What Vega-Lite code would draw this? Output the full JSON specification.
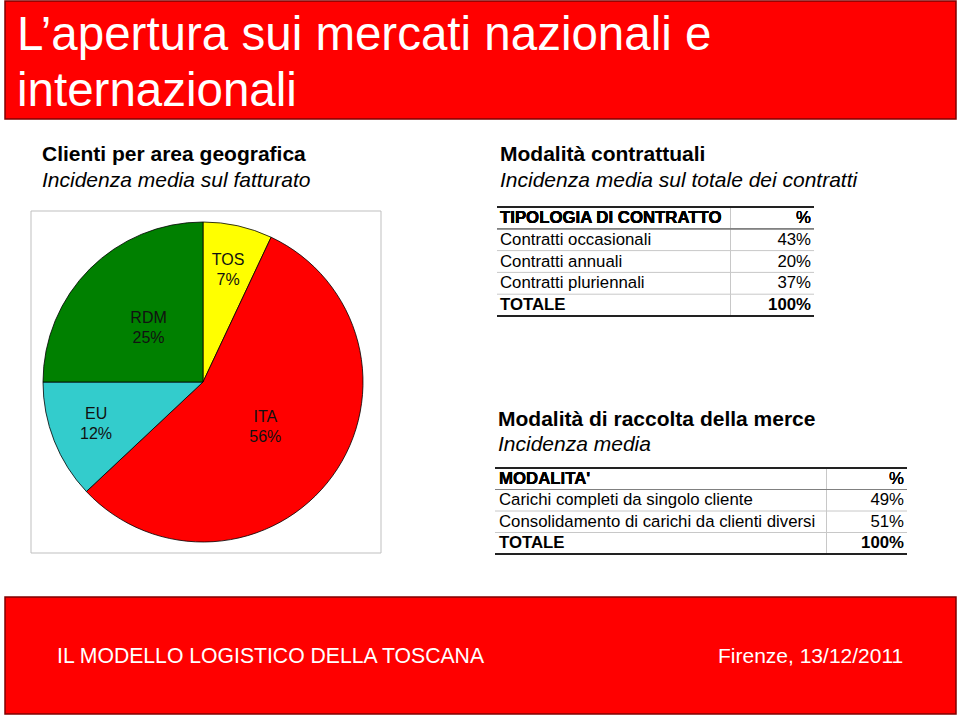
{
  "$schema": "https://vega.github.io/schema/vega-lite/v6.json",
  "width": 960,
  "height": 716,
  "padding": 0,
  "autosize": {"type": "none"},
  "background": "white",
  "config": {
    "view": {"stroke": null},
    "axis": {"disable": true},
    "legend": {"disable": true},
    "font": "Liberation Sans",
    "text": {"font": "Liberation Sans"}
  },
  "resolve": {"scale": {"y": "independent"}},
  "layer": [
    {
      "layer": [
        {
          "data": {"values": [{"fascia": "intestazione"}]},
          "mark": {"type": "rect", "fill": "#ff0000", "stroke": "#800000", "strokeWidth": 1.5},
          "encoding": {
            "x": {"datum": 5, "type": "quantitative", "scale": {"domain": [0, 960], "nice": false, "zero": false}},
            "x2": {"datum": 956},
            "y": {"datum": 1, "type": "quantitative", "scale": {"domain": [0, 716], "reverse": true, "nice": false, "zero": false}},
            "y2": {"datum": 119}
          }
        },
        {
          "data": {"values": [{"fascia": "piede"}]},
          "mark": {"type": "rect", "fill": "#ff0000", "stroke": "#800000", "strokeWidth": 1.5},
          "encoding": {"x": {"datum": 5}, "x2": {"datum": 956}, "y": {"datum": 597}, "y2": {"datum": 714}}
        },
        {
          "data": {"values": [{"fascia": "riquadro"}]},
          "mark": {"type": "rect", "fill": "#ffffff", "stroke": "#bfbfbf", "strokeWidth": 1},
          "encoding": {"x": {"datum": 31}, "x2": {"datum": 381}, "y": {"datum": 211}, "y2": {"datum": 553}}
        },
        {
          "data": {"values": [{"testo": "L’apertura sui mercati nazionali e\ninternazionali"}]},
          "mark": {"type": "text", "fontSize": 47.5, "fill": "#ffffff", "align": "left", "baseline": "alphabetic", "lineBreak": "\n", "lineHeight": 56},
          "encoding": {"x": {"datum": 17}, "y": {"datum": 50}, "text": {"field": "testo"}}
        },
        {
          "data": {"values": [{"testo": "IL MODELLO LOGISTICO DELLA TOSCANA"}]},
          "mark": {"type": "text", "fontSize": 21.2, "fill": "#ffffff", "align": "left", "baseline": "alphabetic"},
          "encoding": {"x": {"datum": 57}, "y": {"datum": 663}, "text": {"field": "testo"}}
        },
        {
          "data": {"values": [{"testo": "Firenze, 13/12/2011"}]},
          "mark": {"type": "text", "fontSize": 21, "fill": "#ffffff", "align": "left", "baseline": "alphabetic"},
          "encoding": {"x": {"datum": 718}, "y": {"datum": 663}, "text": {"field": "testo"}}
        },
        {
          "data": {"values": [{"testo": "Clienti per area geografica"}]},
          "mark": {"type": "text", "fontSize": 21, "fontWeight": "bold", "fill": "#000000", "align": "left", "baseline": "alphabetic"},
          "encoding": {"x": {"datum": 42}, "y": {"datum": 161}, "text": {"field": "testo"}}
        },
        {
          "data": {"values": [{"testo": "Incidenza media sul fatturato"}]},
          "mark": {"type": "text", "fontSize": 21, "fontStyle": "italic", "fill": "#000000", "align": "left", "baseline": "alphabetic"},
          "encoding": {"x": {"datum": 42}, "y": {"datum": 187}, "text": {"field": "testo"}}
        },
        {
          "data": {"values": [{"testo": "Modalità contrattuali"}]},
          "mark": {"type": "text", "fontSize": 21, "fontWeight": "bold", "fill": "#000000", "align": "left", "baseline": "alphabetic"},
          "encoding": {"x": {"datum": 500}, "y": {"datum": 161}, "text": {"field": "testo"}}
        },
        {
          "data": {"values": [{"testo": "Incidenza media sul totale dei contratti"}]},
          "mark": {"type": "text", "fontSize": 21, "fontStyle": "italic", "fill": "#000000", "align": "left", "baseline": "alphabetic"},
          "encoding": {"x": {"datum": 500}, "y": {"datum": 187}, "text": {"field": "testo"}}
        },
        {
          "data": {"values": [{"testo": "Modalità di raccolta della merce"}]},
          "mark": {"type": "text", "fontSize": 21, "fontWeight": "bold", "fill": "#000000", "align": "left", "baseline": "alphabetic"},
          "encoding": {"x": {"datum": 498}, "y": {"datum": 426}, "text": {"field": "testo"}}
        },
        {
          "data": {"values": [{"testo": "Incidenza media"}]},
          "mark": {"type": "text", "fontSize": 21, "fontStyle": "italic", "fill": "#000000", "align": "left", "baseline": "alphabetic"},
          "encoding": {"x": {"datum": 498}, "y": {"datum": 451}, "text": {"field": "testo"}}
        },
        {
          "data": {"values": [
            {"area": "TOS", "quota": 0.07, "ordine": 1},
            {"area": "ITA", "quota": 0.56, "ordine": 2},
            {"area": "EU", "quota": 0.12, "ordine": 3},
            {"area": "RDM", "quota": 0.25, "ordine": 4}
          ]},
          "encoding": {
            "theta": {"field": "quota", "type": "quantitative", "stack": true},
            "order": {"field": "ordine", "type": "quantitative"},
            "detail": {"field": "area", "type": "nominal"},
            "x": {"datum": 203},
            "y": {"datum": 382}
          },
          "layer": [
            {
              "mark": {"type": "arc", "outerRadius": 160, "stroke": "#000000", "strokeWidth": 0.8},
              "encoding": {"color": {"field": "area", "type": "nominal", "scale": {"domain": ["TOS", "ITA", "EU", "RDM"], "range": ["#ffff00", "#ff0000", "#33cccc", "#008000"]}}}
            },
            {
              "mark": {"type": "text", "radius": 77, "dy": -10, "fontSize": 16, "fill": "#111111"},
              "encoding": {
                "text": {"field": "area", "type": "nominal"},
                "opacity": {"condition": {"test": "datum.area === 'RDM' || datum.area === 'ITA'", "value": 1}, "value": 0}
              }
            },
            {
              "mark": {"type": "text", "radius": 77, "dy": 10, "fontSize": 16, "fill": "#111111"},
              "encoding": {
                "text": {"field": "quota", "type": "quantitative", "format": ".0%"},
                "opacity": {"condition": {"test": "datum.area === 'RDM' || datum.area === 'ITA'", "value": 1}, "value": 0}
              }
            },
            {
              "mark": {"type": "text", "radius": 115, "dy": -10, "fontSize": 16, "fill": "#111111"},
              "encoding": {
                "text": {"field": "area", "type": "nominal"},
                "opacity": {"condition": {"test": "datum.area === 'TOS' || datum.area === 'EU'", "value": 1}, "value": 0}
              }
            },
            {
              "mark": {"type": "text", "radius": 115, "dy": 10, "fontSize": 16, "fill": "#111111"},
              "encoding": {
                "text": {"field": "quota", "type": "quantitative", "format": ".0%"},
                "opacity": {"condition": {"test": "datum.area === 'TOS' || datum.area === 'EU'", "value": 1}, "value": 0}
              }
            }
          ]
        }
      ]
    },
    {
      "data": {"values": [
        {"tipologia": "Contratti occasionali", "quota": 0.43},
        {"tipologia": "Contratti annuali", "quota": 0.20},
        {"tipologia": "Contratti pluriennali", "quota": 0.37},
        {"tipologia": "TOTALE", "quota": 1.00}
      ]},
      "layer": [
        {
          "mark": {"type": "rect", "fill": "#c8c8c8"},
          "encoding": {
            "x": {"datum": 730},
            "x2": {"datum": 731},
            "y": {"field": "tipologia", "type": "nominal", "scale": {"type": "band", "domain": ["TIPOLOGIA DI CONTRATTO", "Contratti occasionali", "Contratti annuali", "Contratti pluriennali", "TOTALE"], "range": [207, 316], "paddingInner": 0, "paddingOuter": 0}}
          }
        },
        {
          "mark": {"type": "rect", "fill": "#c8c8c8"},
          "encoding": {"x": {"datum": 730}, "x2": {"datum": 731}, "y": {"datum": "TIPOLOGIA DI CONTRATTO"}}
        },
        {
          "mark": {"type": "rule", "stroke": "#c8c8c8", "strokeWidth": 1},
          "encoding": {"x": {"datum": 497}, "x2": {"datum": 814}, "y": {"field": "tipologia", "type": "nominal", "bandPosition": 0}}
        },
        {
          "mark": {"type": "rule", "stroke": "#808080", "strokeWidth": 1},
          "encoding": {"x": {"datum": 497}, "x2": {"datum": 814}, "y": {"datum": "Contratti occasionali", "bandPosition": 0}}
        },
        {
          "mark": {"type": "rule", "stroke": "#222222", "strokeWidth": 2},
          "encoding": {"x": {"datum": 497}, "x2": {"datum": 814}, "y": {"datum": "TIPOLOGIA DI CONTRATTO", "bandPosition": 0}}
        },
        {
          "mark": {"type": "rule", "stroke": "#222222", "strokeWidth": 2},
          "encoding": {"x": {"datum": 497}, "x2": {"datum": 814}, "y": {"datum": "TOTALE", "bandPosition": 1}}
        },
        {
          "mark": {"type": "text", "fontSize": 16.8, "fontWeight": "bold", "align": "left", "baseline": "middle", "fill": "#000000"},
          "encoding": {"x": {"datum": 500}, "y": {"datum": "TIPOLOGIA DI CONTRATTO"}, "text": {"datum": "TIPOLOGIA DI CONTRATTO"}}
        },
        {
          "mark": {"type": "text", "fontSize": 16.8, "align": "right", "baseline": "middle", "fill": "#000000"},
          "encoding": {"x": {"datum": 811}, "y": {"datum": "TIPOLOGIA DI CONTRATTO"}, "text": {"datum": "%"}}
        },
        {
          "transform": [{"filter": "datum.tipologia !== 'TOTALE'"}],
          "mark": {"type": "text", "fontSize": 16.8, "align": "left", "baseline": "middle", "fill": "#000000"},
          "encoding": {"x": {"datum": 500}, "y": {"field": "tipologia", "type": "nominal"}, "text": {"field": "tipologia"}}
        },
        {
          "transform": [{"filter": "datum.tipologia !== 'TOTALE'"}],
          "mark": {"type": "text", "fontSize": 16.8, "align": "right", "baseline": "middle", "fill": "#000000"},
          "encoding": {"x": {"datum": 811}, "y": {"field": "tipologia", "type": "nominal"}, "text": {"field": "quota", "type": "quantitative", "format": ".0%"}}
        },
        {
          "transform": [{"filter": "datum.tipologia === 'TOTALE'"}],
          "mark": {"type": "text", "fontSize": 16.8, "fontWeight": "bold", "align": "left", "baseline": "middle", "fill": "#000000"},
          "encoding": {"x": {"datum": 500}, "y": {"field": "tipologia", "type": "nominal"}, "text": {"field": "tipologia"}}
        },
        {
          "transform": [{"filter": "datum.tipologia === 'TOTALE'"}],
          "mark": {"type": "text", "fontSize": 16.8, "fontWeight": "bold", "align": "right", "baseline": "middle", "fill": "#000000"},
          "encoding": {"x": {"datum": 811}, "y": {"field": "tipologia", "type": "nominal"}, "text": {"field": "quota", "type": "quantitative", "format": ".0%"}}
        }
      ]
    },
    {
      "data": {"values": [
        {"modalita": "Carichi completi da singolo cliente", "quota": 0.49},
        {"modalita": "Consolidamento di carichi da clienti diversi", "quota": 0.51},
        {"modalita": "TOTALE", "quota": 1.00}
      ]},
      "layer": [
        {
          "mark": {"type": "rect", "fill": "#c8c8c8"},
          "encoding": {
            "x": {"datum": 826},
            "x2": {"datum": 827},
            "y": {"field": "modalita", "type": "nominal", "scale": {"type": "band", "domain": ["MODALITA'", "Carichi completi da singolo cliente", "Consolidamento di carichi da clienti diversi", "TOTALE"], "range": [468, 554], "paddingInner": 0, "paddingOuter": 0}}
          }
        },
        {
          "mark": {"type": "rect", "fill": "#c8c8c8"},
          "encoding": {"x": {"datum": 826}, "x2": {"datum": 827}, "y": {"datum": "MODALITA'"}}
        },
        {
          "mark": {"type": "rule", "stroke": "#c8c8c8", "strokeWidth": 1},
          "encoding": {"x": {"datum": 495}, "x2": {"datum": 907}, "y": {"field": "modalita", "type": "nominal", "bandPosition": 0}}
        },
        {
          "mark": {"type": "rule", "stroke": "#808080", "strokeWidth": 1},
          "encoding": {"x": {"datum": 495}, "x2": {"datum": 907}, "y": {"datum": "Carichi completi da singolo cliente", "bandPosition": 0}}
        },
        {
          "mark": {"type": "rule", "stroke": "#222222", "strokeWidth": 2},
          "encoding": {"x": {"datum": 495}, "x2": {"datum": 907}, "y": {"datum": "MODALITA'", "bandPosition": 0}}
        },
        {
          "mark": {"type": "rule", "stroke": "#222222", "strokeWidth": 2},
          "encoding": {"x": {"datum": 495}, "x2": {"datum": 907}, "y": {"datum": "TOTALE", "bandPosition": 1}}
        },
        {
          "mark": {"type": "text", "fontSize": 16.8, "fontWeight": "bold", "align": "left", "baseline": "middle", "fill": "#000000"},
          "encoding": {"x": {"datum": 499}, "y": {"datum": "MODALITA'"}, "text": {"datum": "MODALITA'"}}
        },
        {
          "mark": {"type": "text", "fontSize": 16.8, "align": "right", "baseline": "middle", "fill": "#000000"},
          "encoding": {"x": {"datum": 904}, "y": {"datum": "MODALITA'"}, "text": {"datum": "%"}}
        },
        {
          "transform": [{"filter": "datum.modalita !== 'TOTALE'"}],
          "mark": {"type": "text", "fontSize": 16.8, "align": "left", "baseline": "middle", "fill": "#000000"},
          "encoding": {"x": {"datum": 499}, "y": {"field": "modalita", "type": "nominal"}, "text": {"field": "modalita"}}
        },
        {
          "transform": [{"filter": "datum.modalita !== 'TOTALE'"}],
          "mark": {"type": "text", "fontSize": 16.8, "align": "right", "baseline": "middle", "fill": "#000000"},
          "encoding": {"x": {"datum": 904}, "y": {"field": "modalita", "type": "nominal"}, "text": {"field": "quota", "type": "quantitative", "format": ".0%"}}
        },
        {
          "transform": [{"filter": "datum.modalita === 'TOTALE'"}],
          "mark": {"type": "text", "fontSize": 16.8, "fontWeight": "bold", "align": "left", "baseline": "middle", "fill": "#000000"},
          "encoding": {"x": {"datum": 499}, "y": {"field": "modalita", "type": "nominal"}, "text": {"field": "modalita"}}
        },
        {
          "transform": [{"filter": "datum.modalita === 'TOTALE'"}],
          "mark": {"type": "text", "fontSize": 16.8, "fontWeight": "bold", "align": "right", "baseline": "middle", "fill": "#000000"},
          "encoding": {"x": {"datum": 904}, "y": {"field": "modalita", "type": "nominal"}, "text": {"field": "quota", "type": "quantitative", "format": ".0%"}}
        }
      ]
    }
  ]
}
